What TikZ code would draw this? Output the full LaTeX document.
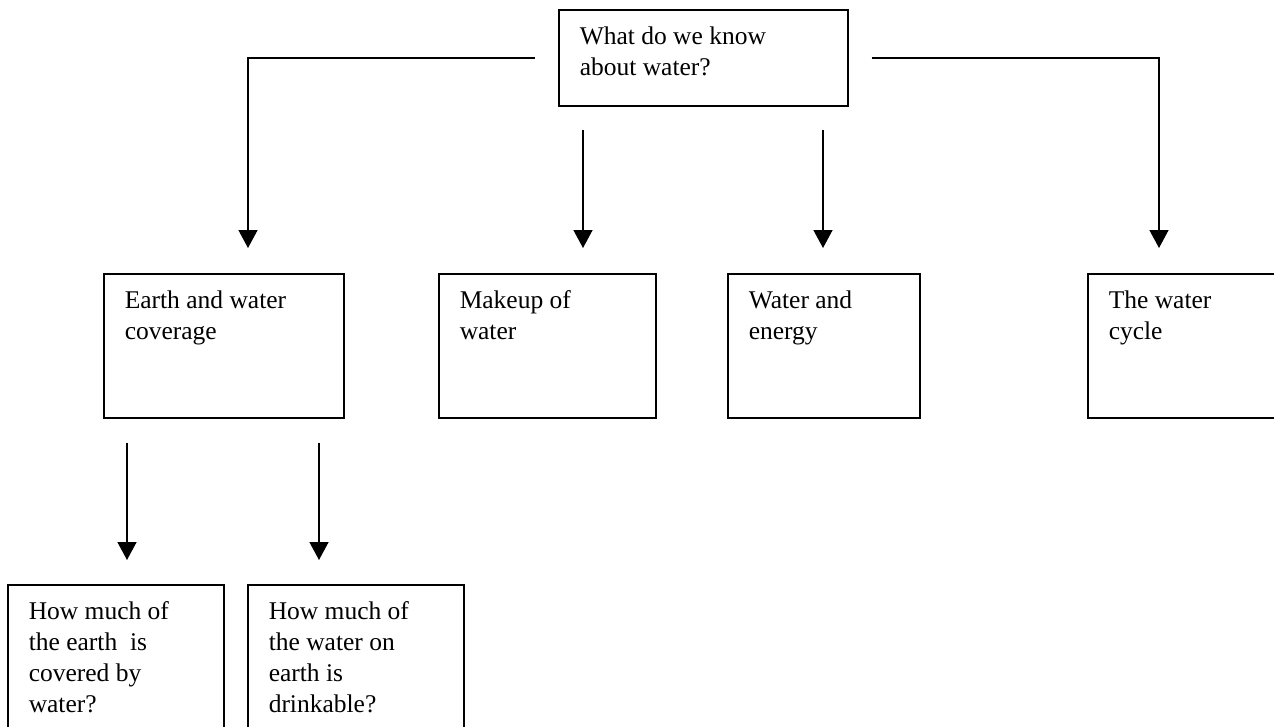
\documentclass[tikz,border=0pt]{standalone}
\usepackage{fontspec}
\setmainfont{Liberation Serif}
\usetikzlibrary{arrows.meta}

% text of a box: width, height (outer, in pt), lines
\newcommand{\topictext}[3]{\parbox[t][\dimexpr#2pt-34pt\relax][t]{\dimexpr#1pt-42pt\relax}{\rule{0pt}{18pt}#3}}

\tikzset{
  topic/.style={draw,line width=1.5pt,anchor=north west,inner xsep=21pt,inner ysep=17pt,
    font=\fontsize{25.5}{31}\selectfont},
  flow/.style={line width=1.5pt,-{Triangle[width=19pt,length=18pt]}}
}

\begin{document}
\begin{tikzpicture}[x=1pt,y=-1pt]
    \useasboundingbox (0,0) rectangle (1274,726);
    %\draw[help lines] (0,0) grid[step=100] (1274,726);
    \node[topic] at (558,9) (what) {\topictext{289}{96}{What do we know\\about water?}};
    \node[topic] at (103,273) (earth) {\topictext{240}{144}{Earth and water\\coverage}};
    \node[topic] at (438,273) (makeup) {\topictext{217}{144}{Makeup of\\water}};
    \node[topic] at (727,273) (energy) {\topictext{192}{144}{Water and\\energy}};
    \node[topic] at (1087,273) (cycle) {\topictext{230}{144}{The water\\cycle}};
    \node[topic] at (7,584) (covered) {\topictext{216}{160}{How much of\\the earth~ is\\covered by\\water?}};
    \node[topic] at (247,584) (drink) {\topictext{216}{160}{How much of\\the water on\\earth is\\drinkable?}};
    % arrow tips
    \coordinate (tipA) at (248,248);
    \coordinate (tipB) at (583,248);
    \coordinate (tipC) at (823,248);
    \coordinate (tipD) at (1159,248);
    \coordinate (tipE) at (127,560);
    \coordinate (tipF) at (319,560);
    \draw[flow,shorten <=23pt] (what.west) -| (tipA);
    \draw[flow,shorten <=23pt] (what.east) -| (tipD);
    \draw[flow,shorten <=23pt] (what.south -| tipB) -- (tipB);
    \draw[flow,shorten <=23pt] (what.south -| tipC) -- (tipC);
    \draw[flow,shorten <=24pt] (earth.south -| tipE) -- (tipE);
    \draw[flow,shorten <=24pt] (earth.south -| tipF) -- (tipF);
\end{tikzpicture}
\end{document}
